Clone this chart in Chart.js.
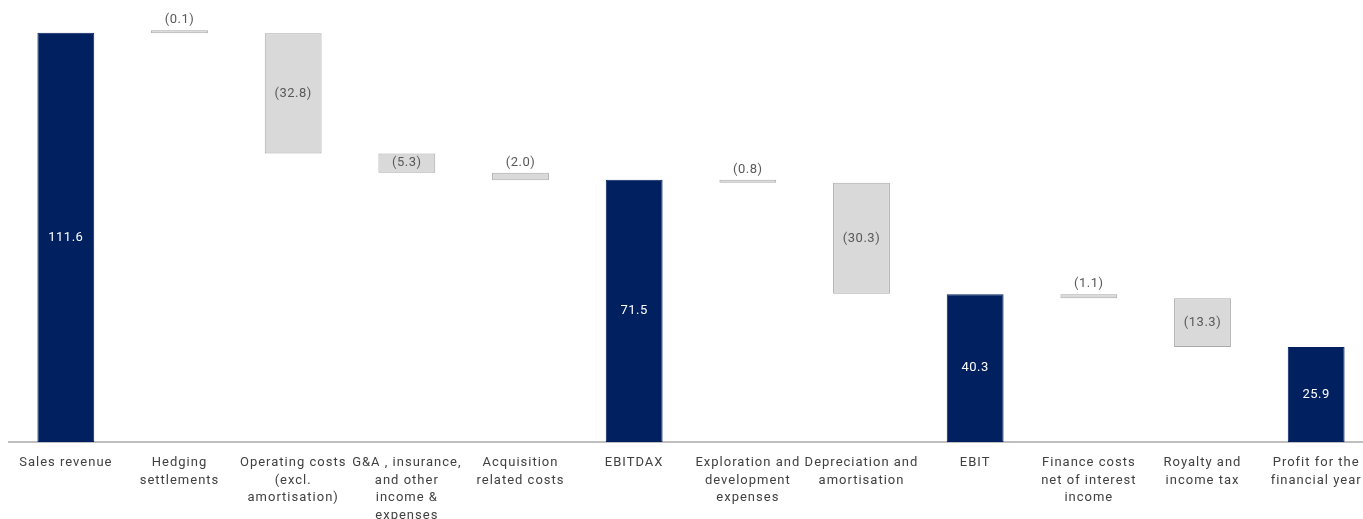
<!DOCTYPE html>
<html>
<head>
<meta charset="utf-8">
<script src="https://cdn.jsdelivr.net/npm/chart.js@4.4.0/dist/chart.umd.min.js"></script>
<style>
  html, body { margin: 0; padding: 0; background: #ffffff; overflow: hidden; width: 1363px; height: 519px; }
  #wrap { position: absolute; left: 0; top: 0; width: 1374px; height: 519px; }
</style>
</head>
<body>
<div id="wrap"><canvas id="c" width="1374" height="519"></canvas></div>
<script>
// ---- data ----
const categories = [
  ["Sales revenue"],
  ["Hedging", "settlements"],
  ["Operating costs", "(excl.", "amortisation)"],
  ["G&A , insurance,", "and other", "income &", "expenses"],
  ["Acquisition", "related costs"],
  ["EBITDAX"],
  ["Exploration and", "development", "expenses"],
  ["Depreciation and", "amortisation"],
  ["EBIT"],
  ["Finance costs", "net of interest", "income"],
  ["Royalty and", "income tax"],
  ["Profit for the", "financial year"]
];
const values = [111.6, -0.1, -32.8, -5.3, -2.0, 71.5, -0.8, -30.3, 40.3, -1.1, -13.3, 25.9];
const isTotal = [true, false, false, false, false, true, false, false, true, false, false, true];
const valueLabels = ["111.6", "(0.1)", "(32.8)", "(5.3)", "(2.0)", "71.5", "(0.8)", "(30.3)", "40.3", "(1.1)", "(13.3)", "25.9"];

// ---- build floating bars ----
const floating = [];
let running = 0;
values.forEach((v, i) => {
  if (isTotal[i]) { floating.push([0, v]); running = v; }
  else { floating.push([running + v, running]); running = running + v; }
});

const NAVY = '#002060';
const GREY = '#D9D9D9';
const GREY_BORDER = '#A9A9A9';

const labelPlugin = {
  id: 'wfLabels',
  afterDatasetsDraw(chart) {
    const ctx = chart.ctx;
    const meta = chart.getDatasetMeta(0);
    ctx.save();
    ctx.letterSpacing = '0.5px';
    ctx.font = '13px Roboto';
    ctx.textAlign = 'center';
    meta.data.forEach((bar, i) => {
      const top = Math.min(bar.y, bar.base);
      const bottom = Math.max(bar.y, bar.base);
      const h = bottom - top;
      if (isTotal[i]) {
        ctx.fillStyle = '#ffffff';
        ctx.textBaseline = 'middle';
        ctx.fillText(valueLabels[i], bar.x, (top + bottom) / 2);
      } else if (h > 16) {
        ctx.fillStyle = '#595959';
        ctx.textBaseline = 'middle';
        ctx.fillText(valueLabels[i], bar.x, (top + bottom) / 2);
      } else {
        ctx.fillStyle = '#595959';
        ctx.textBaseline = 'bottom';
        ctx.fillText(valueLabels[i], bar.x, top - 4);
      }
    });
    ctx.restore();
  }
};

const spacingPlugin = {
  id: 'spacing',
  beforeDraw(chart) { chart.ctx.letterSpacing = '1px'; }
};

new Chart(document.getElementById('c'), {
  type: 'bar',
  data: {
    labels: categories,
    datasets: [{
      data: floating,
      backgroundColor: isTotal.map(t => t ? NAVY : GREY),
      borderColor: isTotal.map(t => t ? NAVY : GREY_BORDER),
      borderWidth: 1,
      borderSkipped: false,
      barPercentage: 0.5,
      categoryPercentage: 1.0,
      minBarLength: 3
    }]
  },
  options: {
    responsive: false,
    devicePixelRatio: 1,
    animation: false,
    layout: { padding: { left: 9, right: 1, top: 2, bottom: 0 } },
    plugins: { legend: { display: false }, tooltip: { enabled: false } },
    scales: {
      y: { display: false, min: 0, max: 120 },
      x: {
        grid: { display: false, drawTicks: false },
        border: { display: true, color: '#BFBFBF', width: 2 },
        ticks: {
          autoSkip: false, maxRotation: 0, minRotation: 0,
          color: '#404040',
          font: { family: 'Roboto', size: 13, lineHeight: 1.35 },
          padding: 12
        },
        afterFit(scale) { scale.height = 77; }
      }
    }
  },
  plugins: [spacingPlugin, labelPlugin]
});
</script>
</body>
</html>
